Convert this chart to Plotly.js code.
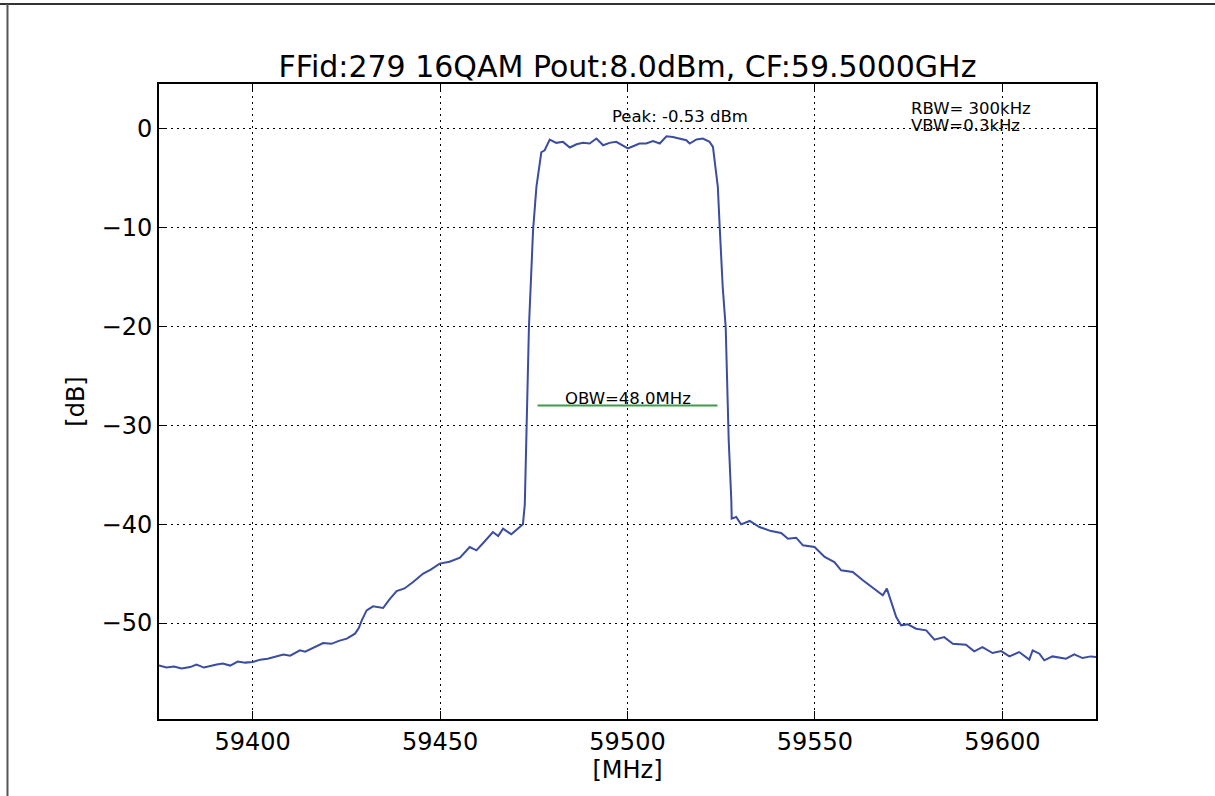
<!DOCTYPE html>
<html>
<head>
<meta charset="utf-8">
<script src="https://cdn.plot.ly/plotly-3.0.1.min.js"></script>
<style>html,body{margin:0;padding:0;background:#fff;}#chart{width:1215px;height:796px;}</style>
</head>
<body>
<div id="chart"></div>
<script>
// Spectrum trace: frequency [MHz] and level [dB]
const freqMHz = [
59375.0,59377.0,59379.0,59381.0,59383.3,59385.0,59387.0,59389.0,59390.4,59392.0,
59394.0,59396.0,59398.0,59400.0,59402.0,59404.0,59406.0,59408.2,59410.0,59412.6,
59414.0,59416.0,59418.8,59421.0,59423.0,59425.1,59427.3,59428.3,59429.1,59430.4,
59432.1,59434.8,59436.5,59438.4,59440.5,59442.8,59445.5,59447.5,59449.9,59452.5,
59455.3,59457.9,59459.7,59461.5,59464.1,59465.5,59466.8,59469.0,59471.3,59472.1,
59472.6,59473.0,59473.7,59474.8,59475.7,59477.0,59477.9,59479.25,59481.0,59482.8,
59484.6,59486.4,59488.1,59489.9,59491.7,59493.5,59495.2,59497.0,59498.8,59500.1,
59501.5,59503.2,59505.0,59506.8,59508.6,59510.4,59512.1,59513.9,59515.7,59516.6,
59518.4,59520.1,59521.9,59522.8,59524.1,59524.6,59525.4,59526.2,59527.0,59527.7,
59527.8,59529.0,59530.3,59532.6,59535.2,59538.3,59541.0,59542.8,59545.0,59546.8,
59549.9,59552.6,59555.2,59557.0,59560.1,59562.8,59565.0,59568.1,59569.2,59570.3,
59571.7,59573.0,59574.8,59577.0,59579.7,59581.9,59584.5,59586.8,59590.3,59592.5,
59594.7,59597.4,59599.7,59601.9,59604.5,59607.2,59608.1,59609.9,59611.2,59613.4,
59617.0,59619.2,59621.4,59623.6,59625.0
];
const levelDb = [
-54.3,-54.5,-54.4,-54.6,-54.45,-54.2,-54.5,-54.3,-54.2,-54.1,
-54.3,-53.9,-54.0,-53.94,-53.7,-53.6,-53.4,-53.17,-53.3,-52.76,
-52.9,-52.5,-52.02,-52.1,-51.8,-51.58,-51.07,-50.5,-49.73,-48.72,
-48.31,-48.48,-47.6,-46.76,-46.5,-45.85,-45.0,-44.6,-43.99,-43.8,
-43.39,-42.31,-42.65,-41.91,-40.8,-41.2,-40.45,-41.03,-40.22,-40.02,
-38.0,-31.5,-20.1,-10.3,-5.9,-2.4,-2.2,-1.11,-1.45,-1.35,
-1.92,-1.59,-1.45,-1.52,-1.01,-1.69,-1.45,-1.35,-1.69,-2.02,
-1.79,-1.52,-1.52,-1.28,-1.52,-0.78,-0.85,-1.01,-1.18,-1.52,
-1.11,-1.01,-1.35,-1.86,-5.9,-9.95,-16.0,-20.1,-31.5,-37.6,
-39.44,-39.28,-40.02,-39.68,-40.29,-40.7,-40.89,-41.47,-41.37,-42.14,
-42.31,-43.32,-43.83,-44.67,-44.84,-45.68,-46.29,-47.2,-46.52,-47.87,
-49.39,-50.23,-50.13,-50.57,-50.74,-51.68,-51.42,-52.09,-52.19,-52.86,
-52.43,-53.03,-52.83,-53.37,-52.93,-53.7,-52.76,-53.1,-53.77,-53.37,
-53.6,-53.17,-53.54,-53.37,-53.44
];
// Occupied bandwidth marker
const obwFreq = [59476.0, 59524.0];
const obwLevel = [-28.0, -28.0];

const titleText = "FFid:279 16QAM Pout:8.0dBm, CF:59.5000GHz";
const peakText = "Peak: -0.53 dBm";
const rbwText = "RBW= 300kHz";
const vbwText = "VBW=0.3kHz";
const obwText = "OBW=48.0MHz";

const font = "DejaVu Sans, Verdana, sans-serif";

const traces = [
  {x: freqMHz, y: levelDb, type: "scatter", mode: "lines",
   line: {color: "#3a4da0", width: 2}, hoverinfo: "skip"},
  {x: obwFreq, y: obwLevel, type: "scatter", mode: "lines",
   line: {color: "#3f9a4a", width: 2}, hoverinfo: "skip"}
];

const axisCommon = {
  showline: true, linecolor: "#000", linewidth: 2, mirror: "ticks",
  ticks: "inside", ticklen: 8, tickwidth: 1, tickcolor: "#000",
  showgrid: true, gridcolor: "#000", gridwidth: 1, griddash: "2px,4px",
  zeroline: false, tickfont: {family: font, size: 24, color: "#000"},
  tickformat: "d"
};

const layout = {
  width: 1215, height: 796,
  margin: {l: 159, r: 119, t: 84, b: 77},
  paper_bgcolor: "#fff", plot_bgcolor: "#fff",
  showlegend: false,
  font: {family: font, color: "#000"},
  title: {text: titleText, font: {family: font, size: 30, color: "#000"},
          x: 0.5, xref: "paper", xanchor: "center", y: 1 - 66/796, yref: "container", yanchor: "middle"},
  xaxis: Object.assign({}, axisCommon, {
    range: [59375, 59625], dtick: 50, tick0: 59400,
    title: {text: "[MHz]", font: {family: font, size: 24, color: "#000"}, standoff: 4}
  }),
  yaxis: Object.assign({}, axisCommon, {
    range: [-59.7, 4.5], dtick: 10, tick0: 0,
    title: {text: "[dB]", font: {family: font, size: 24, color: "#000"}, standoff: 10}
  }),
  annotations: [
    {x: 59513.9, y: 1.24, xref: "x", yref: "y", text: peakText, showarrow: false,
     xanchor: "center", yanchor: "middle", font: {family: font, size: 16.5, color: "#000"}},
    {x: 59575.2, y: 2.05, xref: "x", yref: "y", text: rbwText, showarrow: false,
     xanchor: "left", yanchor: "middle", font: {family: font, size: 16.5, color: "#000"}},
    {x: 59575.2, y: 0.33, xref: "x", yref: "y", text: vbwText, showarrow: false,
     xanchor: "left", yanchor: "middle", font: {family: font, size: 16.5, color: "#000"}},
    {x: 59500, y: -27.27, xref: "x", yref: "y", text: obwText, showarrow: false,
     xanchor: "center", yanchor: "middle", font: {family: font, size: 16.5, color: "#000"}}
  ],
  shapes: [
    {type: "line", xref: "paper", yref: "paper", x0: -0.18, x1: 1.127, y0: 1.126, y1: 1.126,
     line: {color: "#333", width: 2}, layer: "above"},
    {type: "line", xref: "paper", yref: "paper", x0: -0.1617, x1: -0.1617, y0: 1.126, y1: -0.13,
     line: {color: "#555", width: 2}, layer: "above"}
  ]
};

Plotly.newPlot("chart", traces, layout, {displayModeBar: false, staticPlot: true});
</script>
</body>
</html>
